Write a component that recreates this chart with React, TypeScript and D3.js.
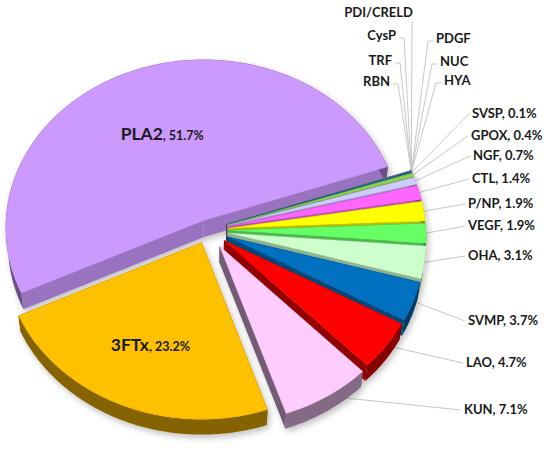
import * as d3 from "d3";

// slices in clockwise order, starting just right of PLA2's right edge
const toxins = ["RBN", "TRF", "CysP", "PDI/CRELD", "PDGF", "NUC", "HYA", "SVSP", "GPOX", "NGF", "CTL", "P/NP", "VEGF", "OHA", "SVMP", "LAO", "KUN", "3FTx", "PLA2"];
const shares = [0.015, 0.015, 0.015, 0.015, 0.015, 0.015, 0.01, 0.1, 0.4, 0.7, 1.4, 1.9, 1.9, 3.1, 3.7, 4.7, 7.1, 23.2, 51.7];
const palette = ["#7f7f7f", "#a5a5a5", "#4472c4", "#ed7d31", "#70ad47", "#5b9bd5", "#264478", "#0070c0", "#92d050", "#ccccff", "#ff66ff", "#ffff00", "#66ff66", "#ccffcc", "#0070c0", "#ff0000", "#ffccff", "#ffc000", "#cc99ff"];
const tinyNames = ["RBN", "TRF", "CysP", "PDI/CRELD", "PDGF", "NUC", "HYA"];

// labels drawn on the slice itself, with their radius as a share of R
const insideLabels: Record<string, number> = { PLA2: 0.57, "3FTx": 0.64 };

// outside label placement (x, baseline y, anchor)
const labelPos: Record<string, [number, number, string]> = {
  "PDI/CRELD": [413, 17, "end"],
  CysP: [396, 40, "end"],
  TRF: [392, 65, "end"],
  RBN: [390, 86, "end"],
  PDGF: [436, 43, "start"],
  NUC: [440, 66, "start"],
  HYA: [444, 85, "start"],
  SVSP: [472, 118, "start"],
  GPOX: [471, 140, "start"],
  NGF: [473, 160, "start"],
  CTL: [472, 183, "start"],
  "P/NP": [468, 208, "start"],
  VEGF: [468, 230, "start"],
  OHA: [468, 260, "start"],
  SVMP: [468, 325, "start"],
  LAO: [466, 367, "start"],
  KUN: [464, 414, "start"],
};

const explodeBy: Record<string, number> = { PLA2: 12, "3FTx": 16, KUN: 22 };
const baseExplode = 20;

const R = 198;
const SIN = 0.85;
const COS = Math.sqrt(1 - SIN * SIN);
const DIST = 2500;
const DEPTH = 32;
const CX = 208;
const CY = 230;
const START = 71;

function project(X: number, Y: number, Z: number): [number, number] {
  const u = Y * SIN + Z * COS;
  const w = DIST + Y * COS - Z * SIN;
  return [CX + (DIST * X) / w, CY - (DIST * u) / w];
}
const depthOf = (p: number[]) => DIST + p[1] * COS - p[2] * SIN;

const line = d3.line();
const poly = (pts: number[][]) => line(pts.map((p) => project(p[0], p[1], p[2]))) + "Z";
const dark = (c: string, k: number) => d3.interpolateRgb(c, "#000")(k);

// cut faces turned toward the front get more light
const cutShade = (normal: number) => 0.55 - 0.3 * Math.max(0, Math.cos(normal - (160 * Math.PI) / 180));

export default function App() {
  const width = 550;
  const height = 450;

  const pie = d3
    .pie<number>()
    .sort(null)
    .value((d) => d)
    .startAngle((START * Math.PI) / 180)
    .endAngle(((START + 360) * Math.PI) / 180);
  const arcs = pie(shares);

  const cuts: { d: string; fill: string; z: number }[] = [];
  const rims: { d: string; fill: string; z: number }[] = [];
  const tops: { d: string; fill: string }[] = [];
  const leaders: string[] = [];
  const texts: any[] = [];

  arcs.forEach((a, i) => {
    const name = toxins[i];
    const color = palette[i];
    const e = explodeBy[name] ?? baseExplode;
    const mid = (a.startAngle + a.endAngle) / 2;
    const ox = e * Math.sin(mid);
    const oy = e * Math.cos(mid);
    const at = (t: number, r: number, z: number) => [ox + r * Math.sin(t), oy + r * Math.cos(t), z];
    const n = Math.max(2, Math.ceil((a.endAngle - a.startAngle) / 0.01));
    const ts = d3.range(n + 1).map((k) => a.startAngle + ((a.endAngle - a.startAngle) * k) / n);

    tops.push({ d: poly([at(0, 0, 0), ...ts.map((t) => at(t, R, 0))]), fill: color });

    const rimTop = ts.map((t) => at(t, R, 0));
    const rimBot = ts.map((t) => at(t, R, -DEPTH)).reverse();
    rims.push({ d: poly([...rimTop, ...rimBot]), fill: dark(color, 0.48), z: d3.min(rimTop, depthOf) as number });

    [
      [a.startAngle, a.startAngle - Math.PI / 2],
      [a.endAngle, a.endAngle + Math.PI / 2],
    ].forEach(([t, normal]) => {
      const q = [at(0, 0, 0), at(t, R, 0), at(t, R, -DEPTH), at(0, 0, -DEPTH)];
      cuts.push({ d: poly(q), fill: dark(color, cutShade(normal)), z: d3.mean(q, depthOf) as number });
    });

    if (name in insideLabels) {
      const p = at(mid, R * insideLabels[name], 0);
      const [x, y] = project(p[0], p[1], p[2]);
      texts.push(
        <text key={name} x={x} y={y + 6} textAnchor="middle" fill="#1a1a1a" fontWeight={700}>
          <tspan fontSize={17.5}>{name}</tspan>
          <tspan fontSize={12.5}>{`, ${a.data.toFixed(1)}%`}</tspan>
        </text>
      );
      return;
    }

    const pos = labelPos[name];
    if (!pos) return;
    const [lx, ly, anchor] = pos;
    const rp = at(mid, R, 0);
    const rim = project(rp[0], rp[1], rp[2]);
    const tiny = tinyNames.includes(name);
    let pts: [number, number][];
    if (name === "PDI/CRELD") pts = [[lx - 1, ly + 4], rim];
    else if (tiny && anchor === "end") pts = [[lx + 3, ly - 2], [lx + 8, ly - 2], rim];
    else if (tiny) pts = [[lx - 3, ly - 2], [lx - 8, ly - 2], rim];
    else pts = [[lx - 3, ly - 4], rim];
    leaders.push(line(pts) as string);
    texts.push(
      <text key={name} x={lx} y={ly} textAnchor={anchor as any} fontSize={13} fontWeight={700} fill="#1a1a1a">
        {tiny ? name : `${name}, ${a.data.toFixed(1)}%`}
      </text>
    );
  });

  cuts.sort((p, q) => q.z - p.z);
  rims.sort((p, q) => q.z - p.z);

  return (
    <svg
      width={width}
      height={height}
      style={{ position: "absolute", left: 0, top: 0, background: "#fff", fontFamily: "Lato, 'Open Sans', sans-serif" }}
    >
      <defs>
        <filter id="shadow" x="-10%" y="-10%" width="120%" height="120%">
          <feDropShadow dx={2} dy={3} stdDeviation={3} floodColor="#000" floodOpacity={0.25} />
        </filter>
      </defs>
      <g stroke="#c8c8c8" strokeWidth={1} fill="none">
        {leaders.map((d, i) => (
          <path key={i} d={d} />
        ))}
      </g>
      <g filter="url(#shadow)">
        {cuts.map((c, i) => (
          <path key={"c" + i} d={c.d} fill={c.fill} />
        ))}
        {rims.map((c, i) => (
          <path key={"r" + i} d={c.d} fill={c.fill} />
        ))}
        {tops.map((c, i) => (
          <path key={"t" + i} d={c.d} fill={c.fill} stroke={dark(c.fill, 0.15)} strokeWidth={0.4} />
        ))}
      </g>
      {texts}
    </svg>
  );
}
